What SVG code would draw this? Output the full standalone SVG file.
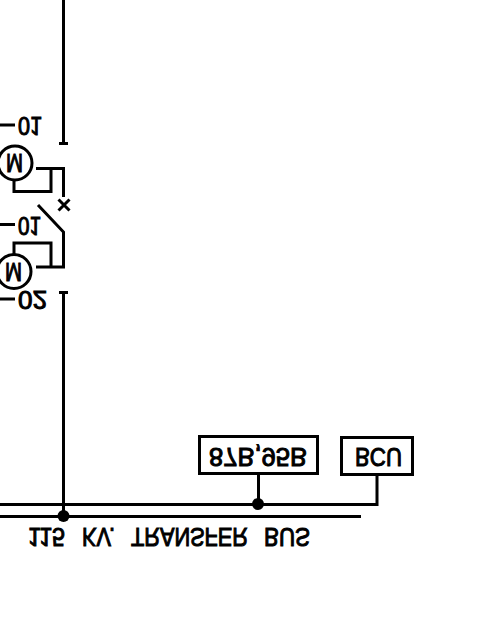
<svg xmlns="http://www.w3.org/2000/svg" width="480" height="640" viewBox="0 0 480 640">
<style>
.l{fill:none;stroke:#000;stroke-width:3}
.t{font-family:"Liberation Sans",Arial,sans-serif;font-size:25px;fill:#000;stroke:#000;stroke-width:1}
.b{fill:#fff;stroke:#000;stroke-width:3}
</style>
<rect width="480" height="640" fill="#fff"/>
<g id="connectors">
<path class="l" d="M63.500 0V143M59 143.500H68M63.500 292V516M59 292.500H68"/>
<path class="l" d="M36 168.500H63.500V197M51 168.500V191.500H14V181"/>
<path class="l" d="M38 205L63.500 232V267H36M51 267V243H14V256"/>
<path class="l" d="M58.500 199.500L69.500 210.500M69.500 199.500L58.500 210.500"/>
<path class="l" d="M0 504.500H377V474M258.500 474V504M0 516.500H361"/>
<path class="l" d="M0 125H15M0 224.500H15M0 299H15"/>
<circle cx="63.500" cy="516" r="6"/>
<circle cx="258" cy="504" r="6"/>
</g>
<g id="motor-top"><circle class="l" cx="15" cy="163" r="17"/><text class="t" textLength="17" lengthAdjust="spacingAndGlyphs" transform="matrix(1 0 0 -1 6 154)">M</text></g>
<g id="motor-bottom"><circle class="l" cx="14" cy="271.500" r="17"/><text class="t" textLength="17" lengthAdjust="spacingAndGlyphs" transform="matrix(1 0 0 -1 5 263)">M</text></g>
<g id="labels">
<text class="t" textLength="24" lengthAdjust="spacingAndGlyphs" transform="matrix(1 0 0 -1 18 117)">01</text>
<text class="t" textLength="23" lengthAdjust="spacingAndGlyphs" transform="matrix(1 0 0 -1 18 217)">01</text>
<text class="t" textLength="29" lengthAdjust="spacingAndGlyphs" transform="matrix(1 0 0 -1 18 291)">02</text>
<text class="t" textLength="37" lengthAdjust="spacingAndGlyphs" transform="matrix(1 0 0 -1 28 528)">115</text>
<text class="t" textLength="33" lengthAdjust="spacingAndGlyphs" transform="matrix(1 0 0 -1 82 528)">KV.</text>
<text class="t" textLength="117" lengthAdjust="spacingAndGlyphs" transform="matrix(1 0 0 -1 131 528)">TRANSFER</text>
<text class="t" textLength="46" lengthAdjust="spacingAndGlyphs" transform="matrix(1 0 0 -1 264 528)">BUS</text>
</g>
<g id="relay-87b"><rect class="b" x="199.500" y="436.500" width="118" height="37"/><text class="t" textLength="98" lengthAdjust="spacingAndGlyphs" transform="matrix(1 0 0 -1 209 448)">87B,95B</text></g>
<g id="bcu"><rect class="b" x="341.500" y="437.500" width="71" height="37"/><text class="t" textLength="47" lengthAdjust="spacingAndGlyphs" transform="matrix(1 0 0 -1 355 448)">BCU</text></g>
</svg>
